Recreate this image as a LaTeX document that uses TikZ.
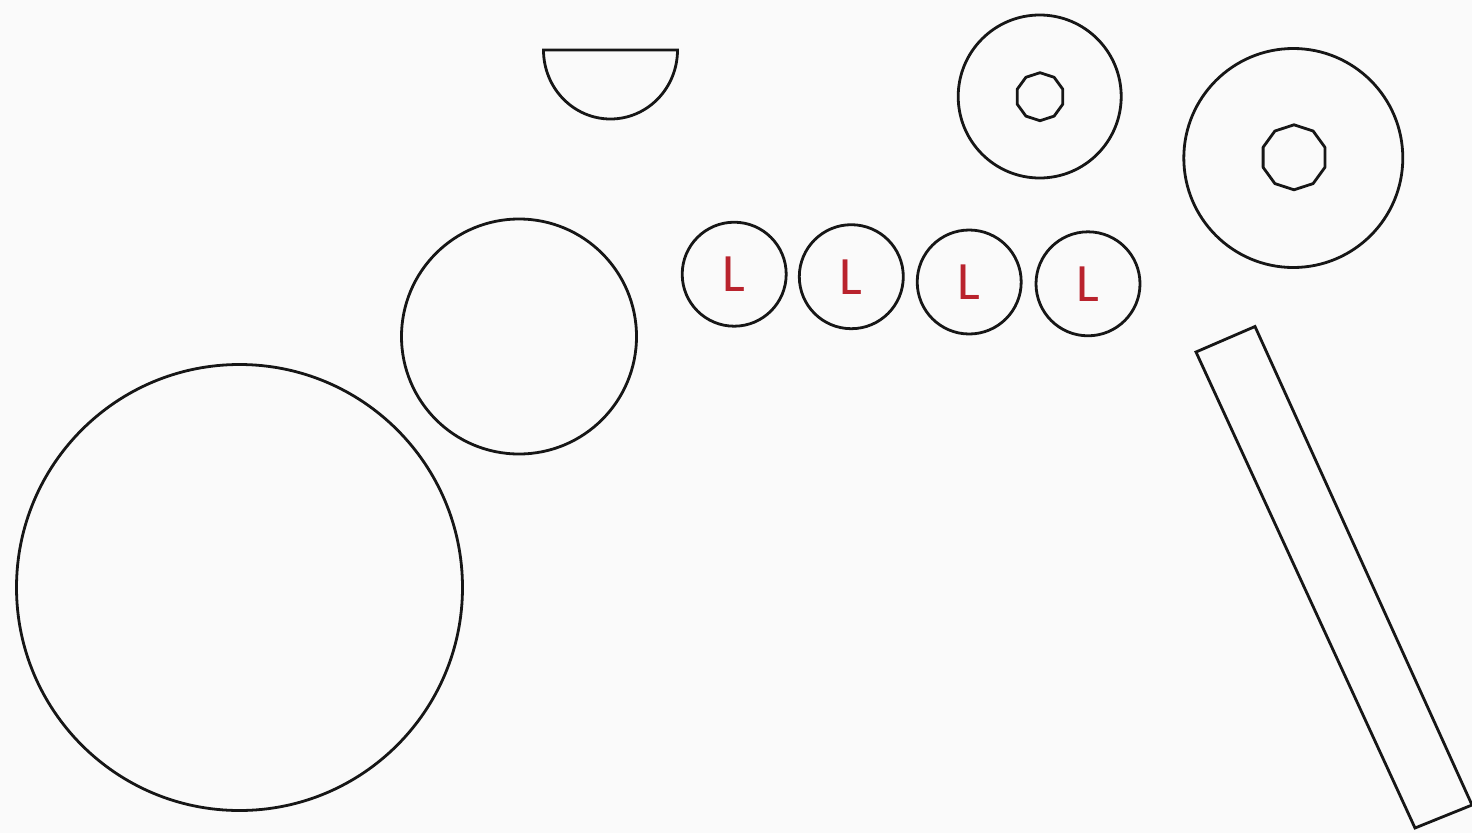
\documentclass[tikz,border=0pt]{standalone}
\usepackage{fontspec}
\newfontfamily\lfont{Carlito}
\usetikzlibrary{shapes.geometric}
\definecolor{ink}{RGB}{22,22,22}
\definecolor{lred}{RGB}{185,35,45}
\definecolor{bg}{RGB}{250,250,250}
\begin{document}
\begin{tikzpicture}[x=1pt,y=-1pt,
  outline/.style={draw=ink,line width=2.8pt},
  ring/.style={outline,circle,inner sep=0pt},
  lcoin/.style={ring,minimum size=104pt,text=lred,font=\lfont\fontsize{54}{54}\selectfont},
  hole/.style={outline,line join=round,regular polygon,regular polygon sides=10,shape border rotate=18,inner sep=0pt}]
\fill[bg] (0,0) rectangle (1472,833);
\useasboundingbox (0,0) rectangle (1472,833);
% large circles
\node[ring,minimum size=446pt] (big) at (239.5,587.5) {};
\node[ring,minimum size=235pt] (mid) at (519,336.5) {};
% half disc
\draw[outline] (543.5,50) coordinate (hl) -- (677.5,50) coordinate (hr)
  arc[start angle=0,end angle=180,x radius=67,y radius=69] -- cycle;
% washers
\node[ring,minimum size=163pt] (w1) at (1039.7,96.5) {};
\node[hole,minimum size=48pt] (h1) at (1040,96.7) {};
\node[ring,minimum size=219pt] (w2) at (1293.3,158) {};
\node[hole,minimum size=65pt] (h2) at (1294,157.3) {};
% L coins
\node[lcoin] (c1) at (734.2,274.2) {L};
\node[lcoin] (c2) at (851.3,276.7) {L};
\node[lcoin] (c3) at (969.2,282) {L};
\node[lcoin] (c4) at (1088,283.8) {L};
% bar
\draw[outline,line join=miter] (1196,352) coordinate (b1) -- (1255,326.5) coordinate (b2)
  -- (1472,805) coordinate (b3) -- (1415,828) coordinate (b4) -- cycle;
\end{tikzpicture}
\end{document}
